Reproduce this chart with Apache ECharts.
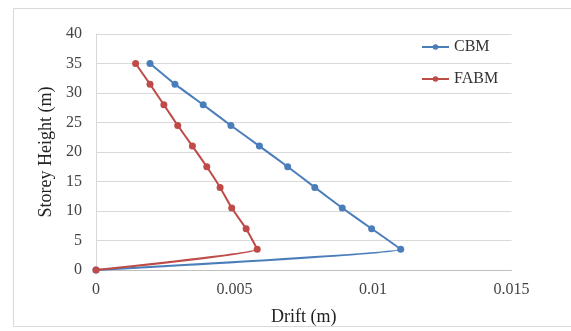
<!DOCTYPE html>
<html>
<head>
<meta charset="utf-8">
<script src="https://cdn.jsdelivr.net/npm/echarts@6/dist/echarts.min.js"></script>
<style>html,body{margin:0;padding:0;background:#fff}#c{width:571px;height:331px}</style>
</head>
<body>
<div id="c"></div>
<script>
var heights = [0, 3.5, 7, 10.5, 14, 17.5, 21, 24.5, 28, 31.5, 35];
var cbmDrift = [0, 0.0110, 0.00995, 0.00889, 0.0079, 0.00692, 0.0059, 0.00487, 0.00387, 0.00285, 0.00195];
var fabmDrift = [0, 0.00582, 0.00542, 0.0049, 0.00448, 0.0040, 0.00348, 0.00295, 0.00245, 0.00195, 0.00143];
var xTickLabels = {0: '0', 0.005: '0.005', 0.01: '0.01', 0.015: '0.015'};

function pairs(xs) { return xs.map(function (x, i) { return [x, heights[i]]; }); }

var font = '"Liberation Serif", "Times New Roman", serif';
var chart = echarts.init(document.getElementById('c'));
chart.setOption({
  animation: false,
  backgroundColor: '#fff',
  textStyle: { fontFamily: font },
  graphic: [{
    type: 'rect', silent: true,
    shape: { x: 13.5, y: 8.5, width: 600, height: 318 },
    style: { fill: 'none', stroke: '#d9d9d9', lineWidth: 1 }
  }],
  grid: { left: 96, right: 59.5, top: 34, bottom: 57, containLabel: false },
  legend: {
    orient: 'vertical', left: 416, top: 34, itemGap: 16,
    itemWidth: 27, itemHeight: 7,
    textStyle: { fontFamily: font, fontSize: 16, color: '#333' },
    data: ['CBM', 'FABM']
  },
  xAxis: {
    type: 'value', min: 0, max: 0.015, interval: 0.005,
    name: 'Drift (m)', nameLocation: 'middle', nameGap: 38,
    nameTextStyle: { fontFamily: font, fontSize: 18, color: '#222' },
    axisLine: { show: true, lineStyle: { color: '#bfbfbf' } },
    axisTick: { show: false },
    splitLine: { show: false },
    axisLabel: { margin: 12, fontFamily: font, fontSize: 16, color: '#444',
      formatter: function (v) { var k = Math.round(v * 1000) / 1000; return xTickLabels[k] !== undefined ? xTickLabels[k] : String(v); } }
  },
  yAxis: {
    type: 'value', min: 0, max: 40, interval: 5,
    name: 'Storey Height (m)', nameLocation: 'middle', nameGap: 32, nameRotate: 90,
    nameTextStyle: { fontFamily: font, fontSize: 18, color: '#222' },
    axisLine: { show: true, lineStyle: { color: '#d9d9d9' } },
    axisTick: { show: false },
    splitLine: { show: true, lineStyle: { color: '#d9d9d9' } },
    axisLabel: { margin: 14, fontFamily: font, fontSize: 16, color: '#444' }
  },
  series: [
    {
      name: 'CBM', type: 'line', data: pairs(cbmDrift), smooth: 0.12,
      symbol: 'circle', symbolSize: 7,
      lineStyle: { width: 2, color: '#4a7ebb' }, itemStyle: { color: '#4a7ebb' }
    },
    {
      name: 'FABM', type: 'line', data: pairs(fabmDrift), smooth: 0.12,
      symbol: 'circle', symbolSize: 7,
      lineStyle: { width: 2, color: '#be4b48' }, itemStyle: { color: '#be4b48' }
    }
  ]
});
</script>
</body>
</html>
